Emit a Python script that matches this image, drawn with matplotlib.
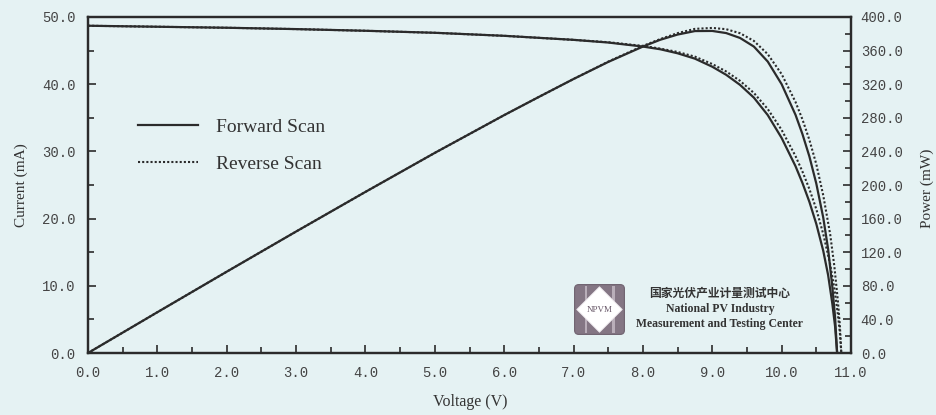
import matplotlib.pyplot as plt
from matplotlib.patches import FancyBboxPatch, Polygon, Rectangle
from matplotlib.ticker import MultipleLocator, FormatStrFormatter

# Forward scan I-V points (V, mA)
fwd_v = [0.0, 1.0, 2.0, 3.0, 4.0, 5.0, 6.0, 6.5, 7.0, 7.5, 8.0, 8.25, 8.5, 8.75, 9.0,
         9.2, 9.4, 9.6, 9.8, 10.0, 10.2, 10.3, 10.4, 10.5, 10.6, 10.67, 10.73, 10.77, 10.8]
fwd_i = [48.7, 48.55, 48.4, 48.2, 47.95, 47.65, 47.2, 46.9, 46.6, 46.2, 45.6, 45.2, 44.6, 43.8, 42.6,
         41.4, 39.9, 38.0, 35.4, 32.0, 27.8, 25.3, 22.5, 19.2, 15.2, 11.6, 7.4, 4.0, 0.0]

# Reverse scan I-V points (V, mA)
rev_v = [0.0, 1.0, 2.0, 3.0, 4.0, 5.0, 6.0, 6.5, 7.0, 7.5, 8.0, 8.25, 8.5, 8.75, 9.0,
         9.2, 9.4, 9.6, 9.8, 10.0, 10.2, 10.3, 10.4, 10.5, 10.6, 10.7, 10.76, 10.81, 10.84, 10.86]
rev_i = [48.7, 48.55, 48.4, 48.2, 47.95, 47.65, 47.2, 46.9, 46.6, 46.25, 45.7, 45.3, 44.8, 44.1, 43.0,
         41.9, 40.5, 38.7, 36.3, 33.2, 29.3, 27.0, 24.4, 21.4, 17.7, 13.2, 9.6, 5.8, 3.0, 0.0]

# power curves, mW = V * mA
fwd_p = [v * i for v, i in zip(fwd_v, fwd_i)]
rev_p = [v * i for v, i in zip(rev_v, rev_i)]

bg = '#e5f2f3'
ink = '#2b2b2b'
dots = (0, (1, 1))

fig = plt.figure(figsize=(9.37, 4.15), dpi=100, facecolor=bg)
ax = fig.add_axes([88 / 937, 1 - 353 / 415, 763 / 937, 336 / 415])
ax.set_facecolor(bg)
ax2 = ax.twinx()

l1, = ax.plot(fwd_v, fwd_i, color=ink, lw=1.6)
l2, = ax.plot(rev_v, rev_i, color=ink, lw=1.5, ls=dots)
ax2.plot(fwd_v, fwd_p, color=ink, lw=1.6)
ax2.plot(rev_v, rev_p, color=ink, lw=1.5, ls=dots)

ax.set_xlim(0, 11)
ax.set_ylim(0, 50)
ax2.set_ylim(0, 400)

mono = 'Liberation Mono'
ax.xaxis.set_major_locator(MultipleLocator(1))
ax.xaxis.set_minor_locator(MultipleLocator(0.5))
ax.yaxis.set_major_locator(MultipleLocator(10))
ax.yaxis.set_minor_locator(MultipleLocator(5))
ax2.yaxis.set_major_locator(MultipleLocator(40))
ax2.yaxis.set_minor_locator(MultipleLocator(20))
for a in (ax.xaxis, ax.yaxis, ax2.yaxis):
    a.set_major_formatter(FormatStrFormatter('%.1f'))

ax.tick_params(which='both', direction='in', color=ink, width=1.2, labelsize=10,
               labelcolor='#444444', top=False, right=False)
ax.tick_params(which='major', length=6)
ax.tick_params(which='minor', length=4)
ax.tick_params(axis='y', pad=9)
ax.tick_params(axis='x', pad=9)
ax2.tick_params(which='both', direction='in', color=ink, width=1.2, labelsize=10,
                labelcolor='#444444', pad=7)
ax2.tick_params(which='major', length=6)
ax2.tick_params(which='minor', length=4)
for lab in ax.get_xticklabels() + ax.get_yticklabels() + ax2.get_yticklabels():
    lab.set_fontfamily(mono)

for a in (ax, ax2):
    for s in a.spines.values():
        s.set_color(ink)
        s.set_linewidth(1.6)

serif = 'Liberation Serif'
fig.text(470 / 937, 1 - 402 / 415, 'Voltage (V)', ha='center', va='center',
         fontsize=11.5, family=serif, color='#333333')
fig.text(21 / 937, 1 - 185 / 415, 'Current (mA)', ha='center', va='center',
         rotation=90, fontsize=11, family=serif, color='#333333')
fig.text(927 / 937, 1 - 188 / 415, 'Power (mW)', ha='center', va='center',
         rotation=90, fontsize=11, family=serif, color='#333333')

leg = ax.legend([l1, l2], ['Forward Scan', 'Reverse Scan'], loc='upper left',
                bbox_to_anchor=(138 / 937, 1 - 118 / 415), bbox_transform=fig.transFigure,
                frameon=False, borderpad=0, borderaxespad=0, handlelength=3.1,
                handletextpad=0.9, labelspacing=1.0, prop={'family': serif, 'size': 14})
for t in leg.get_texts():
    t.set_color('#333333')

# NPVM logo block
logo = fig.add_axes([573 / 937, 1 - 336 / 415, 53 / 937, 53 / 415])
logo.set_xlim(0, 1)
logo.set_ylim(0, 1)
logo.axis('off')
logo.add_patch(FancyBboxPatch((0.03, 0.03), 0.94, 0.94, boxstyle='round,pad=0,rounding_size=0.08',
                              fc='#847684', ec='#6f626f', lw=0.8))
for x0 in (0.22, 0.74):
    logo.add_patch(Rectangle((x0, 0.05), 0.05, 0.9, fc='#b9aeb9', ec='none'))
logo.add_patch(Polygon([(0.5, 0.93), (0.93, 0.5), (0.5, 0.07), (0.07, 0.5)],
                       closed=True, fc='white', ec='#e8e2e8', lw=0.6))
logo.text(0.5, 0.5, 'NPVM', ha='center', va='center', fontsize=6.5, family=serif,
          color='#6a5a6a')

fig.text(720 / 937, 1 - 293 / 415, '国家光伏产业计量测试中心', ha='center', va='center',
         fontsize=8.5, family=['Noto Sans CJK SC', 'DejaVu Sans'], weight='bold', color='#333333')
fig.text(720 / 937, 1 - 309 / 415, 'National PV Industry', ha='center', va='center',
         fontsize=8.5, family=serif, weight='bold', color='#333333')
fig.text(720 / 937, 1 - 324 / 415, 'Measurement and Testing Center', ha='center', va='center',
         fontsize=8.5, family=serif, weight='bold', color='#333333')

fig.savefig('out.png', dpi=100, facecolor=bg)
